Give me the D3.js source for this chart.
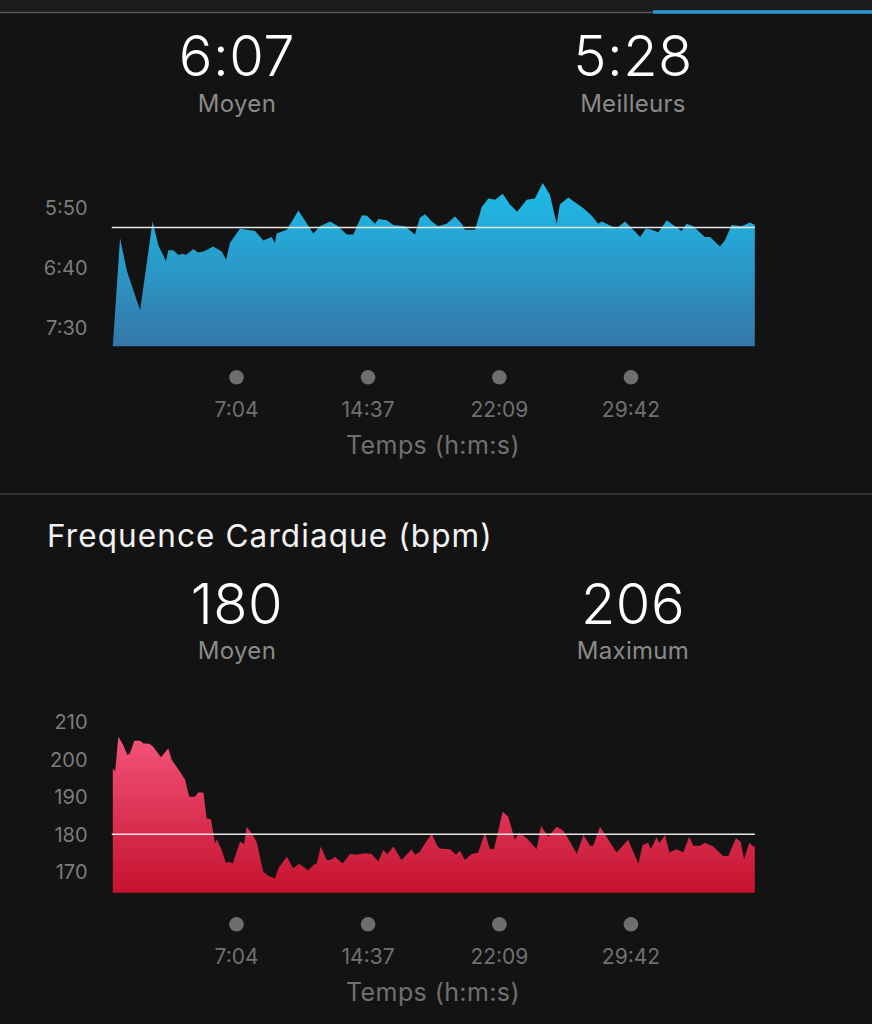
<!DOCTYPE html>
<html><head><meta charset="utf-8">
<script src="https://cdn.jsdelivr.net/npm/d3@7"></script>
<style>
html,body{margin:0;padding:0;background:#131313;}
svg{display:block;font-family:Inter,Roboto,sans-serif;}
</style></head>
<body>
<svg id="c" width="872" height="1024"></svg>
<script>
// ---- data ----
const paceStats = ["6:07", "5:28"];
const paceStatLabels = ["Moyen", "Meilleurs"];
const paceAverage = 367; // seconds per km
const paceAxisTicks = [350, 400, 450];
const paceTime = [0,25,48,94,137,157,183,191,208,226,241,252,277,294,312,346,375,390,403,438,461,490,518,547,558,564,599,639,690,713,748,776,805,828,857,874,903,914,943,966,1006,1040,1057,1075,1098,1120,1149,1178,1201,1212,1247,1270,1293,1316,1342,1367,1392,1425,1453,1480,1505,1528,1539,1568,1591,1620,1648,1671,1683,1717,1734,1763,1792,1815,1835,1855,1878,1907,1929,1958,1975,1998,2038,2056,2090,2107,2130,2165,2193,2210];
const paceSec = [466,376,403,436,362,382,395,386,386,390,389,390,385,388,387,383,387,394,380,368,369,370,378,375,380,372,369,353,372,366,362,366,373,373,357,357,364,360,361,365,366,373,359,356,362,366,364,358,364,369,369,350,343,344,339,348,354,344,343,330,340,364,348,342,346,351,357,364,362,366,368,362,369,375,368,369,371,361,365,370,364,366,375,375,383,378,365,366,363,365];

const hrStats = ["180", "206"];
const hrStatLabels = ["Moyen", "Maximum"];
const hrAverage = 180;
const hrAxisTicks = [170, 180, 190, 200, 210];
const hrTime = [0,8,19,36,50,59,74,94,105,126,139,166,191,203,231,249,263,283,294,312,323,338,352,358,375,390,398,413,438,452,461,482,495,518,535,558,570,599,621,642,673,690,702,716,736,750,765,791,816,837,851,868,891,914,931,945,966,994,1029,1040,1057,1075,1098,1116,1126,1161,1181,1195,1212,1235,1258,1281,1298,1312,1342,1361,1384,1399,1425,1459,1474,1499,1528,1551,1574,1597,1620,1643,1654,1677,1706,1734,1774,1809,1824,1843,1852,1872,1881,1901,1916,1941,1964,1984,1998,2021,2038,2067,2101,2119,2145,2161,2173,2191,2205,2210];
const hrBpm = [197.6,196.7,206,203.8,201.1,201.6,204.9,204.9,204.2,204.1,203.3,200.5,202.9,199.8,196.7,194.5,190,190,191.1,191.1,184.2,184,177.6,178.6,175.8,172.2,172.7,172.2,178,177.4,182,179.8,178,170,168.9,168.2,170.9,174,170.9,172.1,170.3,171.8,172.2,176.7,173.1,173.1,174,172.2,174.7,174.5,174.7,174.9,174.7,172.7,175.8,174.7,176.7,173.1,176,174.5,175.3,177.6,180.1,177,176.2,176,174.5,175.6,173.1,174.7,175.1,180.4,176,176,186,184.7,178.5,180.4,178.9,176,182.2,179.3,182,180.9,178,174.7,179.8,176.9,176.9,182,178.5,175.1,178.5,172.2,177.1,177.7,176,179.2,177.6,179.8,175.1,176,175.1,179.3,176.9,176.9,177.7,176.7,174.2,174.2,178.9,178,173.3,177.7,176.7,176.7];

const timeTicks = [424, 877, 1329, 1782];
const totalTime = 2210;
const xAxisTitle = "Temps (h:m:s)";
const hrTitle = "Frequence Cardiaque (bpm)";

// ---- helpers ----
const FONT = "Inter,Roboto,sans-serif";
const fmt = s => Math.floor(s/60) + ":" + String(Math.round(s%60)).padStart(2,"0");
const svg = d3.select("#c");
const defs = svg.append("defs");

// top header band
svg.append("rect").attr("x",0).attr("y",0).attr("width",872).attr("height",12).attr("fill","#1c1c1c");
svg.append("line").attr("x1",0).attr("x2",653).attr("y1",12.5).attr("y2",12.5).attr("stroke","#5a5a5a").attr("stroke-width",1.5);
svg.append("line").attr("x1",653).attr("x2",872).attr("y1",12).attr("y2",12).attr("stroke","#2a9ad6").attr("stroke-width",3.5);

// divider
svg.append("line").attr("x1",0).attr("x2",872).attr("y1",494).attr("y2",494).attr("stroke","#3e3e3e").attr("stroke-width",1.5);

const x = d3.scaleLinear().domain([0,totalTime]).range([112.8,754.8]);

function stats(values, labels, yNum, yLab){
  const cx = [237, 633];
  values.forEach((v,i)=>{
    svg.append("text").attr("x",cx[i]).attr("y",yNum).attr("text-anchor","middle")
      .attr("fill","#ffffff").attr("font-size",56).attr("font-weight",300).attr("letter-spacing",0.5).text(v);
    svg.append("text").attr("x",cx[i]).attr("y",yLab).attr("text-anchor","middle")
      .attr("fill","#8a8a8a").attr("font-size",24).attr("font-weight",400).attr("letter-spacing",0.3).text(labels[i]);
  });
}

function chart(cfg){
  const g = svg.append("g");
  const id = cfg.id;
  const grad = defs.append("linearGradient").attr("id",id).attr("gradientUnits","userSpaceOnUse")
    .attr("x1",0).attr("x2",0).attr("y1",cfg.gradTop).attr("y2",cfg.y(cfg.base));
  grad.append("stop").attr("offset","0%").attr("stop-color",cfg.c1);
  grad.append("stop").attr("offset","100%").attr("stop-color",cfg.c2);
  const data = cfg.t.map((t,i)=>({t, v: cfg.v[i]}));
  const area = d3.area().x(d=>x(d.t)).y0(cfg.y(cfg.base)).y1(d=>cfg.y(d.v)).curve(d3.curveLinear);
  g.append("path").datum(data).attr("d",area).attr("fill",`url(#${id})`);
  // average line
  g.append("line").attr("x1",x(0)-1).attr("x2",x(totalTime)).attr("y1",cfg.y(cfg.avg)).attr("y2",cfg.y(cfg.avg))
    .attr("stroke","#e6e6e6").attr("stroke-width",1.5);
  // y axis labels
  const yAxis = d3.axisLeft(cfg.y).tickValues(cfg.ticks).tickFormat(cfg.fmt).tickSize(0).tickPadding(0);
  const ya = g.append("g").attr("transform","translate(87.5,0)").call(yAxis);
  ya.select(".domain").remove();
  ya.selectAll("text").attr("fill","#7c7c7c").attr("font-size",20).attr("font-family",FONT).attr("dy","0.36em");
  // x axis: dots + labels
  const xAxis = d3.axisBottom(x).tickValues(timeTicks).tickFormat(fmt).tickSize(0).tickPadding(0);
  const xa = g.append("g").attr("transform",`translate(0,${cfg.dotY})`).call(xAxis);
  xa.select(".domain").remove();
  xa.selectAll(".tick").append("circle").attr("r",7.3).attr("cx",0).attr("cy",0).attr("fill","#6e6e6e");
  xa.selectAll("text").attr("fill","#707070").attr("font-size",21).attr("font-family",FONT)
    .attr("y",39.3).attr("dy",0);
  g.append("text").attr("x",433).attr("y",cfg.dotY+77).attr("text-anchor","middle")
    .attr("fill","#707070").attr("font-size",25).attr("letter-spacing",0.4).text(xAxisTitle);
}

// pace section
stats(paceStats, paceStatLabels, 76, 111.5);
chart({
  id:"gPace", t:paceTime, v:paceSec, base:466, avg:paceAverage, ticks:paceAxisTicks, fmt:fmt,
  y: d3.scaleLinear().domain([350,450]).range([207,327]),
  gradTop:183, c1:"#1dbdea", c2:"#3577a8", dotY:377.3
});

// heart rate section
svg.append("text").attr("x",47).attr("y",547).attr("fill","#f2f2f2").attr("font-size",31.5)
  .attr("font-weight",400).attr("letter-spacing",1.1).text(hrTitle);
stats(hrStats, hrStatLabels, 623.5, 659);
chart({
  id:"gHr", t:hrTime, v:hrBpm, base:164.4, avg:hrAverage, ticks:hrAxisTicks, fmt:d3.format("d"),
  y: d3.scaleLinear().domain([170,210]).range([871.7,721.7]),
  gradTop:736, c1:"#f4547a", c2:"#c5122f", dotY:924.3
});
</script>
</body></html>
